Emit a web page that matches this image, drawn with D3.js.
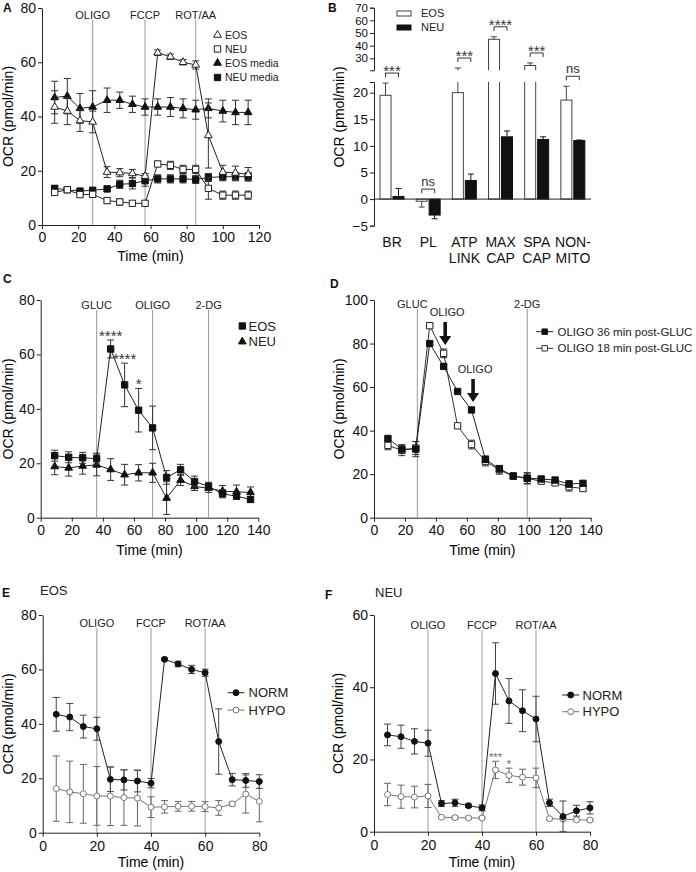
<!DOCTYPE html>
<html>
<head>
<meta charset="utf-8">
<script src="https://cdnjs.cloudflare.com/ajax/libs/d3/7.8.5/d3.min.js"></script>
<style>
  body { margin: 0; background: #fff; }
  svg { display: block; }
</style>
</head>
<body>
<div id="chart"></div>
<script>
var FONT = '"Liberation Sans", Arial, Helvetica, sans-serif';

// ---- Panel A: mito stress test, cells vs media only ----
var aTime = [7, 14, 21, 28, 36, 43, 50, 57, 64, 71, 78, 85, 92, 100, 107, 114];
var aEos = [43.5, 42, 38.5, 38, 19.5, 19.3, 19, 18, 63.5, 62, 60, 59, 33, 19.5, 19.2, 18.7];
var aEosErr = [6, 5, 4, 4, 2, 1.5, 1.5, 1, 1, 1, 1, 1.5, 12, 2.5, 2.5, 2.5];
var aNeu = [12, 13, 11.2, 11.3, 9, 8.5, 8, 8, 22.5, 22, 20.5, 20.5, 13.5, 11, 11, 11];
var aNeuErr = [1, 1, 1, 1, 1, 1.2, 1, 1, 1, 1.5, 1.5, 1.5, 4, 1.5, 1.5, 1.5];
var aEosMedia = [47, 47.5, 43, 43.5, 46, 46, 44.5, 43.5, 43.5, 43.5, 43, 42.5, 43, 42, 41.5, 41.5];
var aEosMediaErr = [6, 6.5, 5.5, 6, 4.5, 3, 3, 3, 3, 3.5, 3.5, 3.5, 3.5, 4, 4.5, 4.5];
var aNeuMedia = [13.5, 13, 12.5, 12.8, 13.3, 15, 15.3, 16.3, 17, 17, 17, 16.8, 17.5, 17.8, 17.8, 17.8];
var aNeuMediaErr = [1, 1, 0.8, 1, 1, 1.5, 2, 2, 1.5, 1.5, 1.5, 1.5, 1.5, 1.5, 1.5, 1.5];
var aInjections = [28, 57, 85];
var aInjectionLabels = ['OLIGO', 'FCCP', 'ROT/AA'];

// ---- Panel B: derived parameters ----
var bCategories = ['BR', 'PL', 'ATP\nLINK', 'MAX\nCAP', 'SPA\nCAP', 'NON-\nMITO'];
var bEos = [19.5, -0.4, 20, 45, 24.3, 18.6];
var bEosErr = [2.3, 1.1, 2.3, 2, 2, 2.6];
var bNeu = [0.5, -3, 3.5, 11.7, 11.2, 11];
var bNeuErr = [1.5, 0.7, 1.2, 1.1, 0.5, 0.1];
var bSig = ['***', 'ns', '***', '****', '***', 'ns'];
var bLowTicks = [-5, 0, 5, 10, 15, 20];
var bHighTicks = [30, 40, 50, 60, 70];

// ---- Panel C: glycolysis test ----
var cTime = [9, 18, 27, 36, 45, 54, 63, 72, 81, 90, 99, 108, 117, 126, 135];
var cEos = [22.8, 22.2, 22, 21.7, 62, 48.8, 39.5, 33, 14.8, 17.6, 13.3, 11.5, 8.8, 7.9, 6.7];
var cEosErr = [2, 2, 2, 2, 3.3, 8, 8, 8, 2.5, 2, 2, 1.5, 1.5, 1, 1];
var cNeu = [18.8, 18.3, 19, 19.4, 17.7, 15.8, 16.5, 16.5, 7.2, 13.8, 11.5, 10.8, 9.8, 9.5, 9.3];
var cNeuErr = [3, 3, 3, 4, 4, 3.8, 3, 3.5, 6, 2, 1.5, 1.5, 2, 2.5, 2];
var cStarTime = [45, 54, 63];
var cStarText = ['****', '****', '*'];
var cInjections = [36, 72, 108];
var cInjectionLabels = ['GLUC', 'OLIGO', '2-DG'];

// ---- Panel D: oligo timing ----
var dTime = [9, 18, 27, 36, 45, 54, 63, 72, 81, 90, 99, 108, 117, 126, 135];
var d36 = [36.4, 31.5, 31.5, 80, 69.5, 58, 49.5, 26.8, 22.5, 19.2, 18.2, 17.8, 17.3, 15.5, 15.8];
var d36Err = [1, 2, 3.5, 0.5, 0.8, 0.5, 0.5, 1.5, 1.5, 1, 2.5, 1, 1, 1.5, 1];
var d18 = [33.2, 31, 32, 88.2, 75.5, 42.2, 33.6, 25.8, 22, 19, 18, 16.8, 16, 14.2, 13.4];
var d18Err = [2, 2.5, 3, 1, 2, 0.5, 2, 2, 2, 1, 2.5, 1, 1, 2, 1];
var dInjections = [28, 99];
var dInjectionLabels = ['GLUC', '2-DG'];
var dArrowTime = [46, 64];
var dArrowTip = [79.3, 53.1];

// ---- Panel E: EOS normoxia vs hypoxia ----
var eTime = [5, 10, 15, 20, 25, 30, 35, 40, 45, 50, 55, 60, 65, 70, 75, 80];
var eNorm = [43.5, 42.5, 39, 38.2, 19.6, 19.4, 19, 18.2, 63.7, 62, 60, 58.8, 33.5, 19.5, 19.2, 18.8];
var eNormErr = [6.2, 5, 4.2, 4.2, 4.5, 3.7, 4, 1.7, 0.5, 1, 1.5, 1.3, 12, 2.3, 2.5, 2.5];
var eHypo = [16.2, 15, 14.3, 13.5, 13.4, 12.9, 12.7, 9.4, 9.5, 9.7, 9.7, 9.6, 9.1, 10.6, 14.2, 11.5];
var eHypoErr = [12, 11.3, 10.8, 10.8, 10.8, 10.2, 10.2, 3.8, 2.3, 1.8, 1.8, 1.8, 2.7, 0.7, 7, 7.5];

// ---- Panel F: NEU normoxia vs hypoxia ----
var fTime = [5, 10, 15, 20, 25, 30, 35, 40, 45, 50, 55, 60, 65, 70, 75, 80];
var fNorm = [26.8, 26.3, 25, 24.5, 7.8, 8, 7.2, 6.6, 43.8, 36.2, 33.5, 31.2, 8, 4.2, 5.8, 6.6];
var fNormErr = [3, 3.2, 3.5, 3.6, 0.8, 1, 0.5, 0.8, 8.5, 6.2, 5.8, 6.3, 1, 4.3, 1.5, 1.7];
var fHypo = [10.3, 9.7, 9.6, 9.9, 4, 3.9, 3.8, 3.8, 17.1, 15.6, 15.1, 14.9, 3.6, 3.5, 3.3, 3.2];
var fHypoErr = [3.1, 3.2, 3, 3.2, 0.3, 0.4, 0.3, 0.3, 2.4, 2, 2.2, 2.7, 0.3, 0.3, 0.3, 0.3];
var fStarTime = [45, 50];
var fStarText = ['***', '*'];
var efInjections = [20, 40, 60];
var efInjectionLabels = ['OLIGO', 'FCCP', 'ROT/AA'];

var svg = d3.select('#chart').append('svg')
  .attr('width', 696)
  .attr('height', 872)
  .attr('font-family', FONT);

var shapes = {
  triangle: d3.symbolTriangle,
  square: d3.symbolSquare,
  circle: d3.symbolCircle
};

function styleAxis(sel, size) {
  sel.attr('font-family', FONT).attr('font-size', size || 14);
  sel.selectAll('path, line').attr('stroke', '#222');
  sel.selectAll('text').attr('fill', '#111');
}

function drawMarker(g, m, cx, cy) {
  g.append('path')
    .attr('d', d3.symbol().type(shapes[m.shape]).size(m.size)())
    .attr('transform', 'translate(' + cx + ',' + cy + ')')
    .attr('fill', m.fill)
    .attr('stroke', m.stroke)
    .attr('stroke-width', 1);
}

function linePanel(p) {
  var g = svg.append('g');
  var x = d3.scaleLinear().domain(p.xDomain).range([p.left, p.right]);
  var y = d3.scaleLinear().domain(p.yDomain).range([p.bottom, p.top]);

  g.append('g')
    .attr('transform', 'translate(0,' + p.bottom + ')')
    .call(d3.axisBottom(x).tickValues(p.xTicks).tickSize(4).tickSizeOuter(0).tickPadding(p.xPad))
    .call(styleAxis);
  g.append('g')
    .attr('transform', 'translate(' + p.left + ',0)')
    .call(d3.axisLeft(y).tickValues(p.yTicks).tickSize(4).tickSizeOuter(0).tickPadding(2))
    .call(styleAxis);

  // axis titles
  g.append('text')
    .attr('x', (p.left + p.right) / 2)
    .attr('y', p.bottom + p.titleGap)
    .attr('text-anchor', 'middle')
    .attr('font-size', 14)
    .text('Time (min)');
  g.append('text')
    .attr('transform', 'translate(' + p.yTitleX + ',' + (p.top + p.bottom) / 2 + ') rotate(-90)')
    .attr('text-anchor', 'middle')
    .attr('font-size', 14)
    .text('OCR (pmol/min)');

  // injection lines
  p.injections.forEach(function(t, i) {
    g.append('line')
      .attr('x1', x(t)).attr('x2', x(t))
      .attr('y1', p.top + p.labelGap + 1).attr('y2', p.bottom)
      .attr('stroke', '#9a9a9a')
      .attr('stroke-width', 1);
    g.append('text')
      .attr('x', x(t) + (p.labelShift ? p.labelShift[i] : 0))
      .attr('y', p.top + p.labelGap)
      .attr('text-anchor', 'middle')
      .attr('font-size', 11)
      .attr('fill', '#222')
      .text(p.injectionLabels[i]);
  });

  p.series.forEach(function(s) {
    var pts = s.t.map(function(t, i) { return { t: t, v: s.v[i], e: s.e[i] }; });
    var eg = g.append('g').attr('stroke', s.errColor).attr('stroke-width', 1);
    pts.forEach(function(d) {
      var lo = y(Math.max(p.yDomain[0], d.v - d.e));
      var hi = y(d.v + d.e);
      var cx = x(d.t);
      eg.append('line').attr('x1', cx).attr('x2', cx).attr('y1', lo).attr('y2', hi);
      eg.append('line').attr('x1', cx - 3.5).attr('x2', cx + 3.5).attr('y1', lo).attr('y2', lo);
      eg.append('line').attr('x1', cx - 3.5).attr('x2', cx + 3.5).attr('y1', hi).attr('y2', hi);
    });
    g.append('path')
      .datum(pts)
      .attr('fill', 'none')
      .attr('stroke', s.lineColor)
      .attr('stroke-width', 1)
      .attr('d', d3.line().x(function(d) { return x(d.t); }).y(function(d) { return y(d.v); }));
    var mg = g.append('g');
    pts.forEach(function(d) { drawMarker(mg, s.marker, x(d.t), y(d.v)); });
  });

  if (p.stars) {
    p.stars.time.forEach(function(t, i) {
      var s = p.stars.series;
      var idx = s.t.indexOf(t);
      g.append('text')
        .attr('x', x(t))
        .attr('y', y(s.v[idx] + s.e[idx]) + p.stars.dy)
        .attr('text-anchor', 'middle')
        .attr('font-size', p.stars.size)
        .attr('fill', p.stars.color)
        .text(p.stars.text[i]);
    });
  }

  if (p.arrows) {
    p.arrows.time.forEach(function(t, i) {
      var ax = x(t), tip = y(p.arrows.tip[i]), tail = tip - 23;
      g.append('path')
        .attr('d', 'M' + (ax - 1.8) + ',' + tail + 'H' + (ax + 1.8) + 'V' + (tip - 9) +
          'H' + (ax + 6) + 'L' + ax + ',' + tip + 'L' + (ax - 6) + ',' + (tip - 9) +
          'H' + (ax - 1.8) + 'Z')
        .attr('fill', '#111');
      g.append('text')
        .attr('x', ax + 2)
        .attr('y', tail - 6)
        .attr('text-anchor', 'middle')
        .attr('font-size', 11)
        .attr('fill', '#222')
        .text('OLIGO');
    });
  }

  var L = p.legend;
  L.items.forEach(function(it, i) {
    var ly = L.y[i];
    if (it.line) {
      g.append('line')
        .attr('x1', L.x - 8.5).attr('x2', L.x + 8.5)
        .attr('y1', ly).attr('y2', ly)
        .attr('stroke', it.lineColor).attr('stroke-width', 1);
    }
    drawMarker(g, it.marker, L.x, ly);
    g.append('text')
      .attr('x', L.textX)
      .attr('y', ly)
      .attr('dy', '0.36em')
      .attr('font-size', L.size)
      .attr('fill', '#222')
      .text(it.label);
  });
}

var openTri = { shape: 'triangle', size: 26, fill: '#fff', stroke: '#222' };
var fillTri = { shape: 'triangle', size: 26, fill: '#111', stroke: '#111' };
var openSq = { shape: 'square', size: 40, fill: '#fff', stroke: '#222' };
var fillSq = { shape: 'square', size: 40, fill: '#111', stroke: '#111' };
var fillDot = { shape: 'circle', size: 28, fill: '#111', stroke: '#111' };
var openDot = { shape: 'circle', size: 28, fill: '#fff', stroke: '#777' };

// Panel A
linePanel({
  xDomain: [0, 120], yDomain: [0, 80], left: 42, right: 259, top: 8, bottom: 225,
  xTicks: [0, 20, 40, 60, 80, 100, 120], yTicks: [0, 20, 40, 60, 80],
  xPad: 3, titleGap: 36, yTitleX: 13, labelGap: 11,
  injections: aInjections, injectionLabels: aInjectionLabels,
  series: [
    { t: aTime, v: aEosMedia, e: aEosMediaErr, marker: fillTri, lineColor: '#222', errColor: '#333' },
    { t: aTime, v: aNeuMedia, e: aNeuMediaErr, marker: fillSq, lineColor: '#222', errColor: '#333' },
    { t: aTime, v: aEos, e: aEosErr, marker: openTri, lineColor: '#222', errColor: '#333' },
    { t: aTime, v: aNeu, e: aNeuErr, marker: openSq, lineColor: '#222', errColor: '#333' }
  ],
  legend: {
    x: 217.5, textX: 225, y: [35, 49, 63, 77.5], size: 10.5,
    items: [
      { marker: openTri, label: 'EOS' },
      { marker: openSq, label: 'NEU' },
      { marker: fillTri, label: 'EOS media' },
      { marker: fillSq, label: 'NEU media' }
    ]
  }
});

// Panel B: broken y axis
(function() {
  var g = svg.append('g');
  var left = 374, right = 591;
  var x = d3.scaleBand().domain(bCategories).range([left, right]);
  var xs = d3.scaleBand().domain(['EOS', 'NEU']).range([6, 30]).paddingInner(0.15);
  var yLow = d3.scaleLinear().domain([-5, 22]).range([225.7, 82]);
  var yHigh = d3.scaleLinear().domain([20.5, 70]).range([70.3, 7.7]);
  var lowMax = 22;

  var defs = svg.append('defs');
  defs.append('clipPath').attr('id', 'clipLow').append('rect')
    .attr('x', left).attr('y', 82).attr('width', right - left).attr('height', 225.7 - 82);
  defs.append('clipPath').attr('id', 'clipHigh').append('rect')
    .attr('x', left).attr('y', 0).attr('width', right - left).attr('height', 70.3);

  var low = g.append('g').attr('clip-path', 'url(#clipLow)');
  var high = g.append('g').attr('clip-path', 'url(#clipHigh)');

  var groups = [
    { key: 'EOS', v: bEos, e: bEosErr, fill: '#fff', stroke: '#444' },
    { key: 'NEU', v: bNeu, e: bNeuErr, fill: '#111', stroke: '#111' }
  ];

  var tops = bCategories.map(function() { return Infinity; });

  groups.forEach(function(gr) {
    bCategories.forEach(function(c, i) {
      var v = gr.v[i], e = gr.e[i];
      var bx = x(c) + xs(gr.key), bw = xs.bandwidth(), cx = bx + bw / 2;
      var end = v >= 0 ? v + e : v - e;
      low.append('rect')
        .attr('x', bx).attr('width', bw)
        .attr('y', yLow(Math.max(0, v))).attr('height', Math.abs(yLow(v) - yLow(0)))
        .attr('fill', gr.fill).attr('stroke', gr.stroke).attr('stroke-width', 1);
      low.append('line')
        .attr('x1', cx).attr('x2', cx).attr('y1', yLow(v)).attr('y2', yLow(end))
        .attr('stroke', gr.stroke);
      if (v > lowMax) {
        high.append('rect')
          .attr('x', bx).attr('width', bw)
          .attr('y', yHigh(v)).attr('height', 90 - yHigh(v))
          .attr('fill', gr.fill).attr('stroke', gr.stroke).attr('stroke-width', 1);
      }
      var capY;
      if (end > lowMax) {
        high.append('line')
          .attr('x1', cx).attr('x2', cx).attr('y1', yHigh(v)).attr('y2', yHigh(end))
          .attr('stroke', gr.stroke);
        capY = yHigh(end);
        high.append('line')
          .attr('x1', cx - 3).attr('x2', cx + 3).attr('y1', capY).attr('y2', capY)
          .attr('stroke', gr.stroke);
      } else {
        capY = yLow(end);
        low.append('line')
          .attr('x1', cx - 3).attr('x2', cx + 3).attr('y1', capY).attr('y2', capY)
          .attr('stroke', gr.stroke);
      }
      var topVal = Math.max(0, v, end);
      var topPx = topVal > lowMax ? yHigh(topVal) : yLow(topVal);
      tops[i] = Math.min(tops[i], topPx);
    });
  });

  // zero line
  g.append('line')
    .attr('x1', left).attr('x2', right)
    .attr('y1', yLow(0)).attr('y2', yLow(0))
    .attr('stroke', '#222');

  g.append('g').attr('transform', 'translate(' + left + ',0)')
    .call(d3.axisLeft(yLow).tickValues(bLowTicks).tickSize(4).tickSizeOuter(4).tickPadding(2))
    .call(styleAxis, 13.5);
  g.append('g').attr('transform', 'translate(' + left + ',0)')
    .call(d3.axisLeft(yHigh).tickValues(bHighTicks).tickSize(4).tickSizeOuter(4).tickPadding(2))
    .call(styleAxis, 11.5);

  // category labels
  bCategories.forEach(function(c) {
    c.split('\n').forEach(function(line, j) {
      g.append('text')
        .attr('x', x(c) + x.bandwidth() / 2)
        .attr('y', 247 + j * 16)
        .attr('text-anchor', 'middle')
        .attr('font-size', 14)
        .attr('fill', '#111')
        .text(line);
    });
  });

  // significance brackets
  bCategories.forEach(function(c, i) {
    var x1 = x(c) + xs('EOS') + xs.bandwidth() / 2;
    var x2 = x(c) + xs('NEU') + xs.bandwidth() / 2;
    var yb = tops[i] - 6, yt = yb - 4;
    g.append('path')
      .attr('d', 'M' + x1 + ',' + yb + 'V' + yt + 'H' + x2 + 'V' + yb)
      .attr('fill', 'none').attr('stroke', '#333');
    var stars = bSig[i] !== 'ns';
    g.append('text')
      .attr('x', (x1 + x2) / 2)
      .attr('y', stars ? yt + 3 : yt - 3)
      .attr('text-anchor', 'middle')
      .attr('font-size', stars ? 15 : 13)
      .attr('fill', '#333')
      .text(bSig[i]);
  });

  // y title
  g.append('text')
    .attr('transform', 'translate(344,117) rotate(-90)')
    .attr('text-anchor', 'middle')
    .attr('font-size', 14)
    .text('OCR (pmol/min)');

  // legend
  groups.forEach(function(gr, i) {
    g.append('rect')
      .attr('x', 397).attr('y', 11 + i * 14).attr('width', 14).attr('height', 5)
      .attr('fill', gr.fill).attr('stroke', gr.stroke);
    g.append('text')
      .attr('x', 421).attr('y', 13.5 + i * 14).attr('dy', '0.36em')
      .attr('font-size', 11).attr('fill', '#222')
      .text(gr.key);
  });
})();

// Panel C
linePanel({
  xDomain: [0, 140], yDomain: [0, 80], left: 40.7, right: 258.3, top: 300, bottom: 517.7,
  xTicks: [0, 20, 40, 60, 80, 100, 120, 140], yTicks: [0, 20, 40, 60, 80],
  xPad: 3, titleGap: 37, yTitleX: 13, labelGap: 9,
  injections: cInjections, injectionLabels: cInjectionLabels,
  series: [
    { t: cTime, v: cNeu, e: cNeuErr, marker: fillTri, lineColor: '#222', errColor: '#333' },
    { t: cTime, v: cEos, e: cEosErr, marker: fillSq, lineColor: '#222', errColor: '#333' }
  ],
  stars: { time: cStarTime, text: cStarText, series: { t: cTime, v: cEos, e: cEosErr }, dy: 1, size: 15, color: '#333' },
  legend: {
    x: 242.3, textX: 248.5, y: [326, 341.7], size: 13,
    items: [
      { marker: fillSq, label: 'EOS' },
      { marker: fillTri, label: 'NEU' }
    ]
  }
});

// Panel D
linePanel({
  xDomain: [0, 140], yDomain: [0, 100], left: 374, right: 590.7, top: 300, bottom: 517.7,
  xTicks: [0, 20, 40, 60, 80, 100, 120, 140], yTicks: [0, 20, 40, 60, 80, 100],
  xPad: 3, titleGap: 37, yTitleX: 344, labelGap: 8, labelShift: [-5, 0],
  injections: dInjections, injectionLabels: dInjectionLabels,
  series: [
    { t: dTime, v: d18, e: d18Err, marker: openSq, lineColor: '#333', errColor: '#333' },
    { t: dTime, v: d36, e: d36Err, marker: fillSq, lineColor: '#222', errColor: '#333' }
  ],
  arrows: { time: dArrowTime, tip: dArrowTip },
  legend: {
    x: 544.7, textX: 557.5, y: [331.7, 348.3], size: 11.5,
    items: [
      { marker: { shape: 'square', size: 30, fill: '#111', stroke: '#111' }, line: true, lineColor: '#222', label: 'OLIGO 36 min post-GLUC' },
      { marker: { shape: 'square', size: 30, fill: '#fff', stroke: '#333' }, line: true, lineColor: '#333', label: 'OLIGO 18 min post-GLUC' }
    ]
  }
});

// Panel E
linePanel({
  xDomain: [0, 80], yDomain: [0, 80], left: 42.7, right: 259.3, top: 615, bottom: 832.7,
  xTicks: [0, 20, 40, 60, 80], yTicks: [0, 20, 40, 60, 80],
  xPad: 4, titleGap: 34.5, yTitleX: 13, labelGap: 12,
  injections: efInjections, injectionLabels: efInjectionLabels,
  series: [
    { t: eTime, v: eHypo, e: eHypoErr, marker: openDot, lineColor: '#777', errColor: '#666' },
    { t: eTime, v: eNorm, e: eNormErr, marker: fillDot, lineColor: '#222', errColor: '#444' }
  ],
  legend: {
    x: 236, textX: 248.5, y: [692.7, 710], size: 13,
    items: [
      { marker: fillDot, line: true, lineColor: '#222', label: 'NORM' },
      { marker: openDot, line: true, lineColor: '#777', label: 'HYPO' }
    ]
  }
});

// Panel F
linePanel({
  xDomain: [0, 80], yDomain: [0, 60], left: 374, right: 590, top: 615, bottom: 831.7,
  xTicks: [0, 20, 40, 60, 80], yTicks: [0, 20, 40, 60],
  xPad: 4, titleGap: 35.5, yTitleX: 343, labelGap: 14,
  injections: efInjections, injectionLabels: efInjectionLabels,
  series: [
    { t: fTime, v: fHypo, e: fHypoErr, marker: openDot, lineColor: '#777', errColor: '#666' },
    { t: fTime, v: fNorm, e: fNormErr, marker: fillDot, lineColor: '#222', errColor: '#444' }
  ],
  stars: { time: fStarTime, text: fStarText, series: { t: fTime, v: fHypo, e: fHypoErr }, dy: 0, size: 11, color: '#666' },
  legend: {
    x: 570.7, textX: 582.5, y: [695, 711.7], size: 13,
    items: [
      { marker: fillDot, line: true, lineColor: '#222', label: 'NORM' },
      { marker: openDot, line: true, lineColor: '#777', label: 'HYPO' }
    ]
  }
});

// panel letters and subtitles
var letters = [['A', 3, 12], ['B', 328, 12], ['C', 3, 283], ['D', 330, 288], ['E', 2, 597], ['F', 325, 599]];
letters.forEach(function(l) {
  svg.append('text')
    .attr('x', l[1]).attr('y', l[2])
    .attr('font-size', 12).attr('font-weight', 'bold').attr('fill', '#111')
    .text(l[0]);
});
svg.append('text').attr('x', 40).attr('y', 595).attr('font-size', 13).attr('fill', '#222').text('EOS');
svg.append('text').attr('x', 375).attr('y', 597).attr('font-size', 13).attr('fill', '#222').text('NEU');
</script>
</body>
</html>
